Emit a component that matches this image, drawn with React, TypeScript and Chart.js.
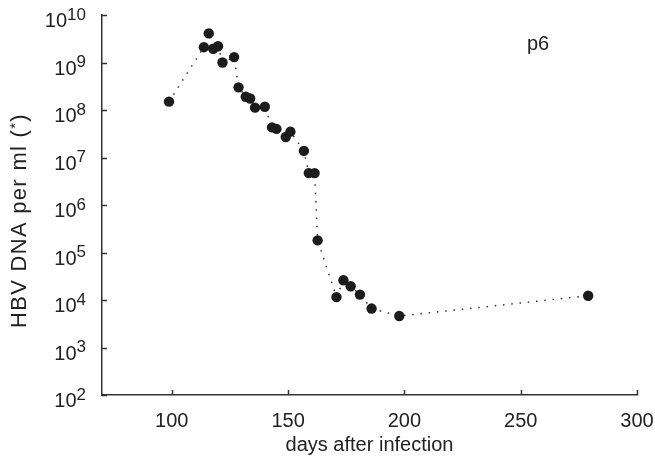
import { useEffect, useRef } from 'react';
import { Chart, registerables } from 'chart.js';

Chart.register(...registerables);

// Days after infection (x) and HBV DNA per ml (y)
const days = [98.8, 113.8, 115.9, 117.8, 119.9, 121.8, 126.8, 128.7, 131.8, 133.7, 135.8, 140.0, 143.1, 145.0, 149.0, 151.0, 156.8, 158.9, 161.4, 162.7, 170.8, 173.8, 176.9, 180.9, 185.9, 197.8, 279.0];
const hbvDna = [1.5e8, 2.1e9, 4.1e9, 1.95e9, 2.2e9, 1.0e9, 1.3e9, 3.0e8, 1.9e8, 1.75e8, 1.12e8, 1.17e8, 4.3e7, 4.0e7, 2.7e7, 3.5e7, 1.38e7, 4.7e6, 4.7e6, 1.8e5, 1.15e4, 2.6e4, 1.95e4, 1.3e4, 6.6e3, 4.6e3, 1.23e4];
const xTicks = [100, 150, 200, 250, 300];
const yExponents = [2, 3, 4, 5, 6, 7, 8, 9, 10];
const xTitle = 'days after infection';
const yTitleMain = 'HBV DNA per ml (';
const yTitleSup = '*';
const yTitleEnd = ')';
const panelLabel = 'p6';

const FONT = '"Liberation Sans", Arial, Helvetica, sans-serif';
const TEXT = '#222';
const AXIS = '#333';

const overlay = {
  id: 'overlay',
  afterDraw(chart: any) {
    const ctx = chart.ctx as CanvasRenderingContext2D;
    const xs = chart.scales.x;
    const ys = chart.scales.y;
    const area = chart.chartArea;
    ctx.save();
    // inward tick marks
    ctx.strokeStyle = AXIS;
    ctx.lineWidth = 1.5;
    ctx.beginPath();
    ys.ticks.forEach((t: any) => {
      const py = Math.round(ys.getPixelForValue(t.value)) + 0.5;
      ctx.moveTo(area.left, py);
      ctx.lineTo(area.left + 5, py);
    });
    xs.ticks.forEach((t: any) => {
      const px = Math.round(xs.getPixelForValue(t.value)) + 0.5;
      ctx.moveTo(px, area.bottom);
      ctx.lineTo(px, area.bottom - 5);
    });
    ctx.stroke();

    ctx.fillStyle = TEXT;
    // y tick labels 10^n
    ys.ticks.forEach((t: any) => {
      const py = ys.getPixelForValue(t.value);
      const e = String(Math.round(Math.log10(t.value)));
      ctx.font = `17px ${FONT}`;
      const ew = ctx.measureText(e).width;
      const right = 86;
      ctx.textAlign = 'left';
      ctx.textBaseline = 'alphabetic';
      ctx.fillText(e, right - ew, py + 4.5);
      ctx.font = `20px ${FONT}`;
      ctx.textAlign = 'right';
      ctx.fillText('10', right - ew, py + 12);
    });
    // x tick labels
    ctx.font = `20px ${FONT}`;
    ctx.textAlign = 'center';
    ctx.textBaseline = 'alphabetic';
    xs.ticks.forEach((t: any) => {
      const px = xs.getPixelForValue(t.value);
      ctx.fillText(String(t.value), px, 427);
    });
    // x title
    ctx.fillText(xTitle, (area.left + area.right) / 2, 451);
    // y title with superscript asterisk
    ctx.save();
    const c: any = ctx;
    c.letterSpacing = '1.3px';
    ctx.font = `22px ${FONT}`;
    const w1 = ctx.measureText(yTitleMain).width;
    const w3 = ctx.measureText(yTitleEnd).width;
    ctx.font = `15px ${FONT}`;
    const w2 = ctx.measureText(yTitleSup).width;
    const total = w1 + w2 + w3;
    ctx.translate(26, 113 + total);
    ctx.rotate(-Math.PI / 2);
    let cx = 0;
    ctx.textAlign = 'left';
    ctx.font = `22px ${FONT}`;
    ctx.fillText(yTitleMain, cx, 0);
    cx += w1;
    ctx.font = `15px ${FONT}`;
    ctx.fillText(yTitleSup, cx, -6);
    cx += w2;
    ctx.font = `22px ${FONT}`;
    ctx.fillText(yTitleEnd, cx, 0);
    ctx.restore();
    // panel label
    ctx.font = `20px ${FONT}`;
    ctx.textAlign = 'left';
    ctx.fillText(panelLabel, 527, 50);
    ctx.restore();
  },
};

export default function App() {
  const ref = useRef<HTMLCanvasElement | null>(null);
  useEffect(() => {
    document.body.style.margin = '0';
    const canvas = ref.current;
    if (!canvas) return;
    const chart = new Chart(canvas, {
      type: 'scatter',
      data: {
        datasets: [
          {
            data: days.map((d, i) => ({ x: d, y: hbvDna[i] })),
            showLine: true,
            borderColor: '#333',
            borderWidth: 1.5,
            borderDash: [1.5, 6.8],
            pointRadius: 5.2,
            pointBackgroundColor: '#1c1c1c',
            pointBorderWidth: 0,
            clip: false,
          } as any,
        ],
      },
      options: {
        animation: false,
        responsive: true,
        maintainAspectRatio: false,
        layout: { padding: { left: 0, right: 18, top: 15, bottom: 0 } },
        plugins: { legend: { display: false }, tooltip: { enabled: false } },
        scales: {
          x: {
            type: 'linear',
            min: 70,
            max: 300,
            afterBuildTicks: (s: any) => {
              s.ticks = xTicks.map((v) => ({ value: v }));
            },
            ticks: { display: false },
            grid: { display: false, drawTicks: false },
            border: { display: true, color: AXIS, width: 1.5 },
            afterFit: (s: any) => {
              s.height = 69;
            },
          },
          y: {
            type: 'logarithmic',
            min: 1e2,
            max: 1e10,
            afterBuildTicks: (s: any) => {
              s.ticks = yExponents.map((e) => ({ value: Math.pow(10, e) }));
            },
            ticks: { display: false },
            grid: { display: false, drawTicks: false },
            border: { display: true, color: AXIS, width: 1.5 },
            afterFit: (s: any) => {
              s.width = 102;
            },
          },
        },
      },
      plugins: [overlay],
    });
    return () => chart.destroy();
  }, []);
  return (
    <div style={{ width: 655, height: 464, position: 'relative', background: '#fff' }}>
      <canvas ref={ref} />
    </div>
  );
}
